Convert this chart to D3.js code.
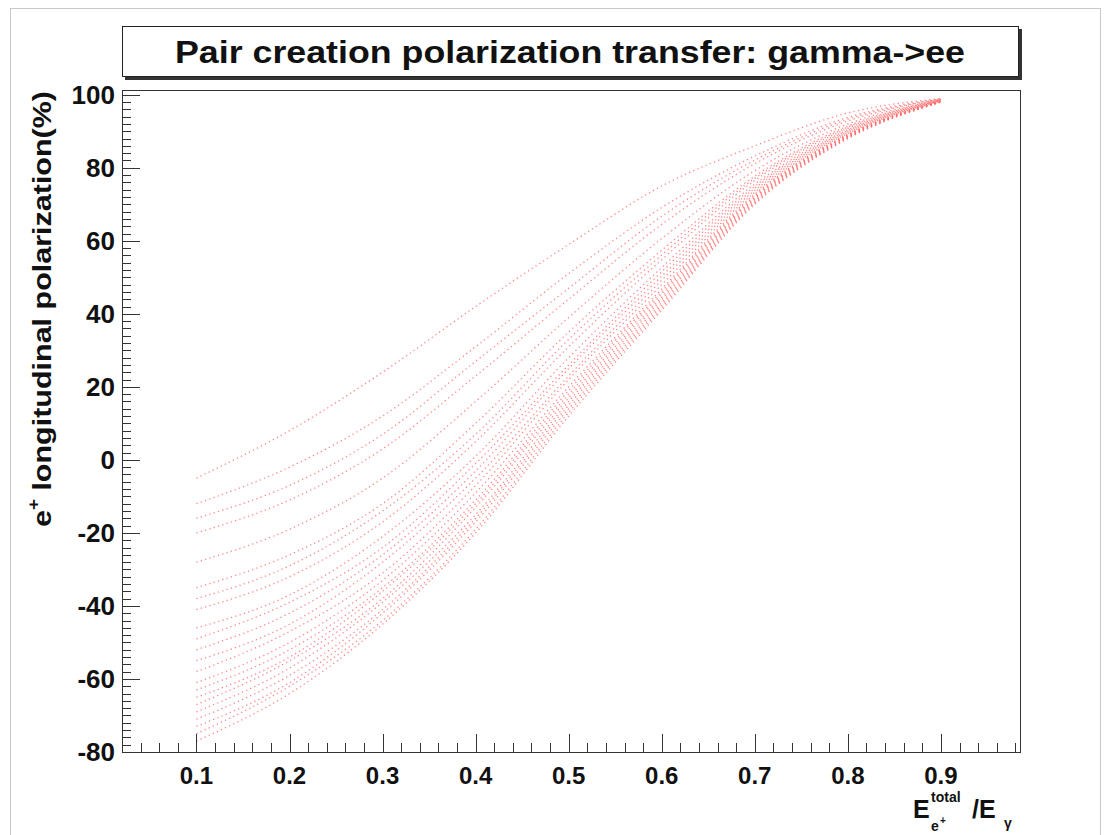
<!DOCTYPE html>
<html>
<head>
<meta charset="utf-8">
<script src="https://cdn.jsdelivr.net/npm/d3@7"></script>
<style>
  html, body { margin: 0; padding: 0; background: #fff; }
  svg { display: block; font-family: "Liberation Sans", Arial, sans-serif; }
</style>
</head>
<body>
<div id="chart"></div>
<script>
// energy fraction knots (x) and positron polarization (%) of each curve at that knot
const xKnots = [0.1, 0.2, 0.3, 0.4, 0.5, 0.6, 0.7, 0.8, 0.9];
const polAt010 = [-5, -12, -16, -20, -28, -35, -38, -41, -46, -49, -52, -55, -58, -61, -63, -65, -67, -69, -71, -73, -75, -77];
const polAt020 = [8, -2, -7, -11, -19, -26, -29, -32, -37, -39, -42, -45, -47, -50, -52, -54, -55, -57, -59, -61, -62, -64];
const polAt030 = [24, 12, 7, 3, -5, -12, -14, -17, -21, -24, -26, -28, -31, -33, -35, -36, -38, -39, -41, -42, -44, -45];
const polAt040 = [42, 31, 27, 23, 16, 10, 7, 5, 1, -1, -3, -5, -7, -9, -11, -12, -13, -15, -16, -17, -19, -20];
const polAt050 = [59, 51, 47, 44, 39, 35, 33, 31, 28, 26, 25, 23, 22, 20, 19, 18, 17, 16, 15, 14, 13, 12];
const polAt060 = [75, 69.1, 66.7, 64.5, 60.6, 57.4, 56.1, 54.8, 52.7, 51.5, 50.3, 49.2, 48.0, 46.8, 46.1, 45.4, 44.6, 43.9, 43.1, 42.4, 41.7, 41];
const polAt070 = [86, 83.2, 82.1, 81.1, 79.2, 77.7, 77.1, 76.5, 75.5, 74.9, 74.4, 73.8, 73.3, 72.8, 72.4, 72.0, 71.7, 71.4, 71.0, 70.7, 70.3, 70];
const polAt080 = [95, 93.8, 93.3, 92.8, 92.0, 91.4, 91.1, 90.8, 90.4, 90.2, 89.9, 89.7, 89.4, 89.2, 89.0, 88.9, 88.7, 88.6, 88.4, 88.3, 88.1, 88];
const polAt090 = [99, 98.9, 98.8, 98.8, 98.7, 98.6, 98.6, 98.5, 98.5, 98.4, 98.4, 98.3, 98.3, 98.2, 98.2, 98.2, 98.1, 98.1, 98.1, 98.0, 98.0, 98.0];

const xTickLabels = ['0.1', '0.2', '0.3', '0.4', '0.5', '0.6', '0.7', '0.8', '0.9'];
const yTickLabels = ['-80', '-60', '-40', '-20', '0', '20', '40', '60', '80', '100'];

const columns = [polAt010, polAt020, polAt030, polAt040, polAt050, polAt060, polAt070, polAt080, polAt090];
const curves = polAt010.map((_, i) => xKnots.map((xv, k) => ({ x: xv, y: columns[k][i] })));

const width = 1106, height = 835;
const frame = { left: 122, right: 1020, top: 90, bottom: 752 };

const svg = d3.select('#chart').append('svg')
  .attr('width', width)
  .attr('height', height);

// canvas border
svg.append('rect')
  .attr('x', 10.5).attr('y', 8.5)
  .attr('width', 1090).attr('height', 840)
  .attr('fill', 'none').attr('stroke', '#c8c8c8');

const x = d3.scaleLinear().domain([0.02, 0.985]).range([frame.left, frame.right]);
const y = d3.scaleLinear().domain([-80, 101.3]).range([frame.bottom, frame.top]);

// dotted curves
const line = d3.line()
  .x(d => x(d.x))
  .y(d => y(d.y))
  .curve(d3.curveMonotoneX);

svg.append('g')
  .attr('fill', 'none')
  .attr('stroke', '#ff6a6a')
  .attr('stroke-width', 1.3)
  .attr('stroke-dasharray', '1.3 3.2')
  .attr('stroke-opacity', 0.8)
  .selectAll('path')
  .data(curves)
  .join('path')
  .attr('d', line);

// frame
svg.append('rect')
  .attr('x', frame.left + 0.5).attr('y', frame.top + 0.5)
  .attr('width', frame.right - frame.left).attr('height', frame.bottom - frame.top)
  .attr('fill', 'none').attr('stroke', '#333').attr('stroke-width', 1);

// x axis: major + minor ticks
const xMinor = d3.range(0.02, 0.985, 0.02);
const xAxisG = svg.append('g').attr('stroke', '#333').attr('stroke-width', 1);
xAxisG.selectAll('line.minor').data(xMinor).join('line')
  .attr('x1', d => Math.round(x(d)) + 0.5).attr('x2', d => Math.round(x(d)) + 0.5)
  .attr('y1', frame.bottom).attr('y2', frame.bottom - 9);
xAxisG.selectAll('line.major').data(xTickLabels).join('line')
  .attr('x1', d => Math.round(x(+d)) + 0.5).attr('x2', d => Math.round(x(+d)) + 0.5)
  .attr('y1', frame.bottom).attr('y2', frame.bottom - 18);

svg.append('g')
  .selectAll('text').data(xTickLabels).join('text')
  .attr('x', d => x(+d))
  .attr('y', 784)
  .attr('text-anchor', 'middle')
  .attr('font-size', 24)
  .attr('font-weight', 'bold')
  .attr('fill', '#111')
  .text(d => d);

// y axis: major + minor ticks
const yMinor = d3.range(-80, 101, 2);
const yAxisG = svg.append('g').attr('stroke', '#333').attr('stroke-width', 1);
yAxisG.selectAll('line.minor').data(yMinor).join('line')
  .attr('x1', frame.left).attr('x2', frame.left + 9)
  .attr('y1', d => Math.round(y(d)) + 0.5).attr('y2', d => Math.round(y(d)) + 0.5);
yAxisG.selectAll('line.major').data(yTickLabels).join('line')
  .attr('x1', frame.left).attr('x2', frame.left + 18)
  .attr('y1', d => Math.round(y(+d)) + 0.5).attr('y2', d => Math.round(y(+d)) + 0.5);

svg.append('g')
  .selectAll('text').data(yTickLabels).join('text')
  .attr('x', 115)
  .attr('y', d => y(+d) + 9)
  .attr('text-anchor', 'end')
  .attr('font-size', 26)
  .attr('font-weight', 'bold')
  .attr('fill', '#111')
  .text(d => d);

// y axis title
const yTitle = svg.append('text')
  .attr('transform', 'translate(51,309) rotate(-90)')
  .attr('text-anchor', 'middle')
  .attr('font-size', 26)
  .attr('font-weight', 'bold')
  .attr('fill', '#111')
  .attr('textLength', 436)
  .attr('lengthAdjust', 'spacingAndGlyphs');
yTitle.append('tspan').text('e');
yTitle.append('tspan').attr('font-size', 16).attr('dy', -12).text('+');
yTitle.append('tspan').attr('dy', 12).text(' longitudinal polarization(%)');

// x axis title
const xTitle = svg.append('g').attr('font-weight', 'bold').attr('fill', '#111');
xTitle.append('text').attr('x', 913).attr('y', 818).attr('font-size', 25).text('E');
xTitle.append('text').attr('x', 931).attr('y', 802).attr('font-size', 14).text('total');
xTitle.append('text').attr('x', 931).attr('y', 831).attr('font-size', 14).text('e');
xTitle.append('text').attr('x', 940).attr('y', 824).attr('font-size', 10).text('+');
xTitle.append('text').attr('x', 972).attr('y', 818).attr('font-size', 25).text('/E');
xTitle.append('text').attr('x', 1004).attr('y', 828).attr('font-size', 14).text('γ');

// title box with shadow
svg.append('rect')
  .attr('x', 125).attr('y', 29).attr('width', 897).attr('height', 51)
  .attr('fill', '#333');
svg.append('rect')
  .attr('x', 122.5).attr('y', 26.5).attr('width', 896).attr('height', 50)
  .attr('fill', '#fff').attr('stroke', '#222');
svg.append('text')
  .attr('x', 570).attr('y', 63)
  .attr('text-anchor', 'middle')
  .attr('font-size', 32)
  .attr('font-weight', 'bold')
  .attr('fill', '#111')
  .attr('textLength', 790)
  .attr('lengthAdjust', 'spacingAndGlyphs')
  .text('Pair creation polarization transfer: gamma->ee');
</script>
</body>
</html>
